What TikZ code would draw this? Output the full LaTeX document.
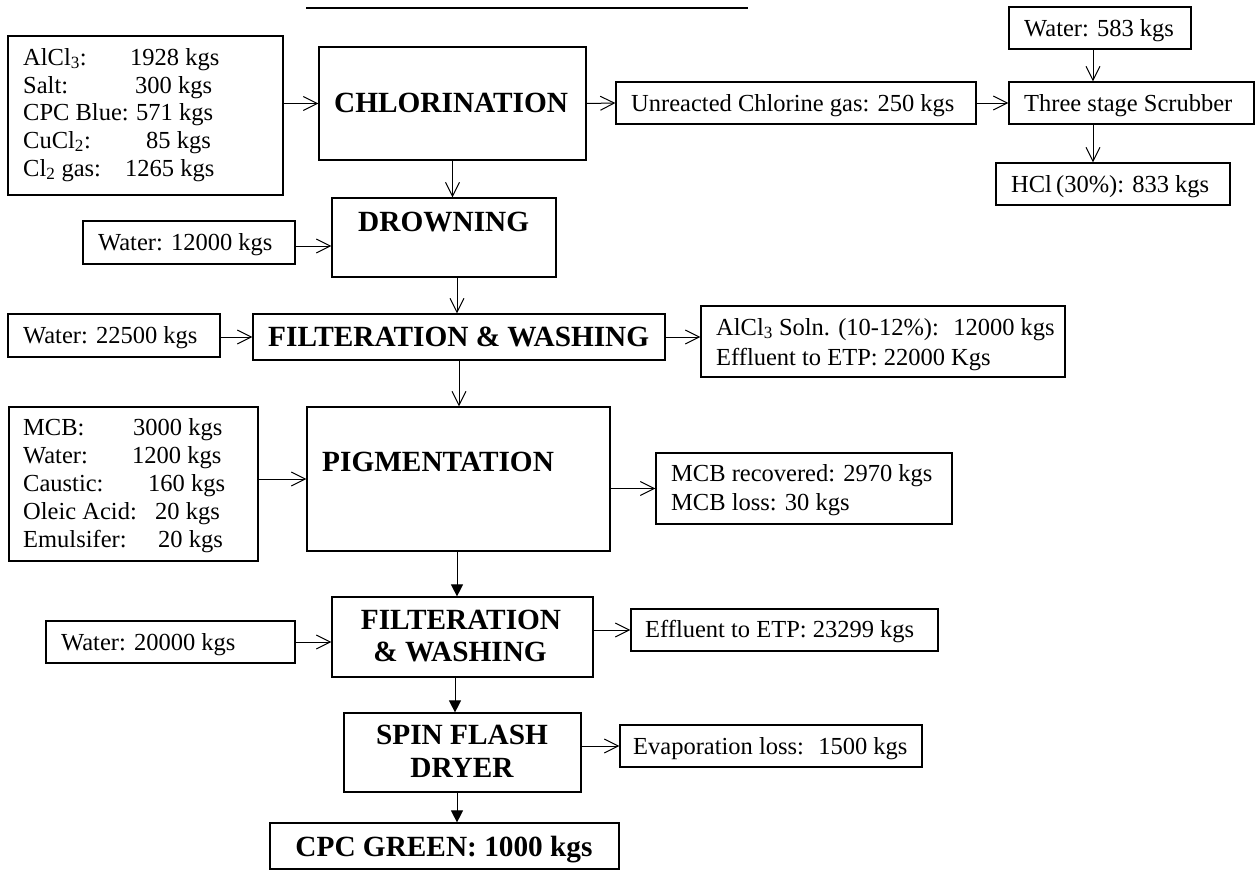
\documentclass[tikz,border=0pt]{standalone}
\usepackage{fontspec}
\setmainfont{Liberation Serif}
\usetikzlibrary{arrows.meta}
\newcommand{\rsz}{\fontsize{24.5}{29}\selectfont}
\newcommand{\bsz}{\fontsize{29.3}{33}\selectfont\bfseries}
\newcommand{\mysub}[1]{\textsubscript{#1}}
\begin{document}
\begin{tikzpicture}[x=1pt,y=-1pt,
  box/.style={draw, line width=1.2pt, inner sep=0pt},
  rt/.style={font=\rsz, inner sep=0pt, anchor=base west},
  bt/.style={font=\bsz, inner sep=0pt, anchor=base west},
  btc/.style={font=\bsz, inner sep=0pt, anchor=base},
  arr/.style={line width=1pt, -{Straight Barb[length=14pt,width=14pt,line width=1pt]}},
  farr/.style={line width=1pt, -{Triangle[length=12pt,width=12pt]}}]
\useasboundingbox (0,0) rectangle (1255,870);

% top line
\coordinate (tl1) at (306,8);
\coordinate (tl2) at (748,8);
\draw[line width=1.2pt] (tl1) -- (tl2);

% boxes
\node[box, minimum width=275pt, minimum height=159pt] (inA) at (145.5,115.5) {};
\node[box, minimum width=267pt, minimum height=113pt] (chl) at (452.5,103.5) {};
\node[box, minimum width=360pt, minimum height=42pt] (unr) at (796,103) {};
\node[box, minimum width=245pt, minimum height=42pt] (scr) at (1131.5,103) {};
\node[box, minimum width=182pt, minimum height=42pt] (w583) at (1100,28) {};
\node[box, minimum width=234pt, minimum height=42pt] (hcl) at (1113,184) {};
\node[box, minimum width=224pt, minimum height=79pt] (drown) at (444,237.5) {};
\node[box, minimum width=212pt, minimum height=43pt] (w12000) at (189,242.5) {};
\node[box, minimum width=412pt, minimum height=46pt] (filt1) at (459,337) {};
\node[box, minimum width=212pt, minimum height=43pt] (w22500) at (114,335.5) {};
\node[box, minimum width=364pt, minimum height=71pt] (alcl) at (883,341.5) {};
\node[box, minimum width=249pt, minimum height=154pt] (inB) at (133.5,484) {};
\node[box, minimum width=303pt, minimum height=144pt] (pig) at (458.5,479) {};
\node[box, minimum width=296pt, minimum height=71pt] (mcb) at (804,488.5) {};
\node[box, minimum width=261pt, minimum height=80pt] (filt2) at (462.5,637) {};
\node[box, minimum width=249pt, minimum height=42pt] (w20000) at (170.5,642) {};
\node[box, minimum width=307pt, minimum height=42pt] (eff) at (784.5,630) {};
\node[box, minimum width=237pt, minimum height=79pt] (sfd) at (462.5,752.5) {};
\node[box, minimum width=302pt, minimum height=42pt] (evap) at (771,746) {};
\node[box, minimum width=349pt, minimum height=46pt] (cpc) at (444.5,846) {};

% input A texts
\node[rt] (a1l) at (23,65) {AlCl\mysub{3}:};
\node[rt] (a1v) at (130,65) {1928 kgs};
\node[rt] (a2l) at (23,93) {Salt:};
\node[rt] (a2v) at (135,93) {300 kgs};
\node[rt] (a3l) at (23,120) {CPC Blue:};
\node[rt] (a3v) at (136,120) {571 kgs};
\node[rt] (a4l) at (23,148) {CuCl\mysub{2}:};
\node[rt] (a4v) at (146,148) {85 kgs};
\node[rt] (a5l) at (23,176) {Cl\mysub{2} gas:};
\node[rt] (a5v) at (125,176) {1265 kgs};

% input B texts
\node[rt] (b1l) at (23,435) {MCB:};
\node[rt] (b1v) at (133,435) {3000 kgs};
\node[rt] (b2l) at (23,463) {Water:};
\node[rt] (b2v) at (132,463) {1200 kgs};
\node[rt] (b3l) at (23,491) {Caustic:};
\node[rt] (b3v) at (148,491) {160 kgs};
\node[rt] (b4l) at (23,519) {Oleic Acid:};
\node[rt] (b4v) at (155,519) {20 kgs};
\node[rt] (b5l) at (23,547) {Emulsifer:};
\node[rt] (b5v) at (158,547) {20 kgs};

% single-line texts
\node[rt] (tunr) at (631,111) {Unreacted Chlorine gas: 250 kgs};
\node[rt] (tscr) at (1024,111) {Three stage Scrubber};
\node[rt] (tw583) at (1024,36) {Water: 583 kgs};
\node[rt] (thcl) at (1011,192) {HCl\,(30\%): 833 kgs};
\node[rt] (tw12000) at (98,250) {Water: 12000 kgs};
\node[rt] (tw22500) at (23,343) {Water: 22500 kgs};
\node[rt] (tw20000) at (61,650) {Water: 20000 kgs};
\node[rt] (teff) at (645,637) {Effluent to ETP: 23299 kgs};
\node[rt] (tevap) at (633,754) {Evaporation loss:~ 1500 kgs};
\node[rt] (talc1) at (716,335) {AlCl\mysub{3} Soln. (10-12\%):~ 12000 kgs};
\node[rt] (talc2) at (716,365) {Effluent to ETP: 22000 Kgs};
\node[rt] (tmcb1) at (671,481) {MCB recovered: 2970 kgs};
\node[rt] (tmcb2) at (671,510) {MCB loss: 30 kgs};

% bold titles
\node[bt] (tchl) at (334,112.5) {CHLORINATION};
\node[bt] (tdrown) at (358,231.5) {DROWNING};
\node[bt] (tfilt1) at (268,346.5) {FILTERATION \& WASHING};
\node[bt] (tpig) at (322,471.5) {PIGMENTATION};
\node[btc] (tfilt2a) at (461,629.5) {FILTERATION};
\node[btc] (tfilt2b) at (460,661.5) {\& WASHING};
\node[btc] (tsfda) at (462,744.5) {SPIN FLASH};
\node[btc] (tsfdb) at (462,777.5) {DRYER};
\node[btc] (tcpc) at (444,856.5) {CPC GREEN: 1000 kgs};

% connectors
\draw[arr] (inA.east |- chl.west) -- (chl.west);
\draw[arr] (chl.east) -- (unr.west);
\draw[arr] (unr.east) -- (scr.west);
\draw[arr] ([xshift=-7pt]w583.south) -- ([xshift=-7pt]w583.south |- scr.north);
\draw[arr] ([xshift=-38.5pt]scr.south) -- ([xshift=-38.5pt]scr.south |- hcl.north);
\draw[arr] (chl.south) -- (chl.south |- drown.north);
\draw[arr] ([yshift=-3.5pt]w12000.east) -- ([yshift=-3.5pt]w12000.east -| drown.west);
\draw[arr] ([xshift=13pt]drown.south) -- ([xshift=13pt]drown.south |- filt1.north);
\draw[arr] (w22500.east |- filt1.west) -- (filt1.west);
\draw[arr] (filt1.east) -- (filt1.east -| alcl.west);
\draw[arr] (filt1.south) -- (filt1.south |- pig.north);
\draw[arr] (inB.east |- pig.west) -- (pig.west);
\draw[arr] (pig.east |- mcb.west) -- (mcb.west);
\draw[farr] ([xshift=-1.5pt]pig.south) -- ([xshift=-1.5pt]pig.south |- filt2.north);
\draw[arr] (w20000.east) -- (w20000.east -| filt2.west);
\draw[arr] (filt2.east |- eff.west) -- (eff.west);
\draw[farr] ([xshift=-7.5pt]filt2.south) -- ([xshift=-7.5pt]filt2.south |- sfd.north);
\draw[arr] (sfd.east |- evap.west) -- (evap.west);
\draw[farr] ([xshift=-5.5pt]sfd.south) -- ([xshift=-5.5pt]sfd.south |- cpc.north);
\end{tikzpicture}
\end{document}
